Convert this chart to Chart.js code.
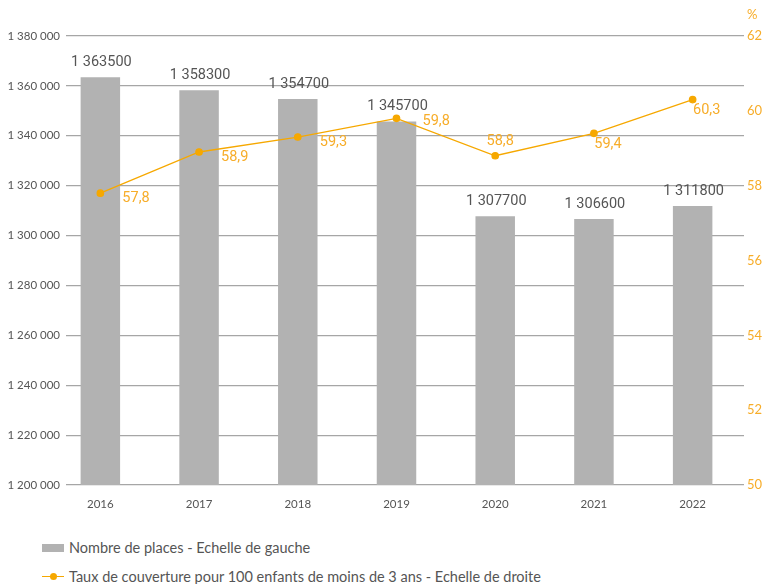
<!DOCTYPE html>
<html lang="fr">
<head>
<meta charset="utf-8">
<script src="https://cdn.jsdelivr.net/npm/chart.js@4.4.1/dist/chart.umd.min.js"></script>
<style>
    html, body { margin: 0; padding: 0; background: #fff; }
    #wrap { position: relative; width: 765px; height: 584px; }
    #c { display: block; }
    .leg { position: absolute; left: 42px; font-family: Lato, sans-serif; font-size: 14.5px; color: #555; display: flex; align-items: center; }
    .leg .box { width: 22px; height: 8px; background: #b2b2b2; margin-right: 5px; }
    .leg .ln { position: relative; width: 22px; height: 1.5px; background: #f6a800; margin-right: 5px; }
    .leg .ln:after { content: ""; position: absolute; left: 8px; top: -3px; width: 7px; height: 7px; border-radius: 50%; background: #f6a800; }
</style>
</head>
<body>
<div id="wrap">
    <canvas id="c" width="765" height="525"></canvas>
    <div class="leg" style="top:539px"><span class="box"></span>Nombre de places - Echelle de gauche</div>
    <div class="leg" style="top:568px"><span class="ln"></span>Taux de couverture pour 100 enfants de moins de 3 ans - Echelle de droite</div>
</div>
<script>
(function () {
    "use strict";

    var ANNEES = ["2016", "2017", "2018", "2019", "2020", "2021", "2022"];
    var PLACES = [1363500, 1358300, 1354700, 1345700, 1307700, 1306600, 1311800];
    var TAUX = [57.8, 58.9, 59.3, 59.8, 58.8, 59.4, 60.3];
    // placement des étiquettes du taux autour du point
    var TAUX_POS = ["br", "br", "br", "r", "t", "b", "b"];

    var GRIS_TXT = "#555555";
    var ORANGE = "#f6a800";
    var ORANGE_TXT = "#f7ad2a";

    function espaces(n) {
        return String(n).replace(/\B(?=(\d{3})+(?!\d))/g, " ");
    }
    function etiqPlaces(n) {
        var s = String(n);
        return s.slice(0, 1) + " " + s.slice(1);
    }

    var etiquettes = {
        id: "etiquettes",
        afterLayout: function (chart) {
            // décale l'axe des catégories comme dans l'original
            var x = chart.scales.x;
            x.left = 51; x.right = 742; x.width = x.right - x.left;
            x.configure();
            x._labelItems = null;
        },
        afterDatasetsDraw: function (chart) {
            var ctx = chart.ctx;
            ctx.save();
            ctx.font = "14.5px Roboto";
            ctx.fillStyle = GRIS_TXT;
            ctx.textAlign = "center";
            ctx.textBaseline = "middle";
            chart.getDatasetMeta(1).data.forEach(function (b, i) {
                ctx.fillText(etiqPlaces(PLACES[i]), b.x + 1, b.y - 15);
            });
            ctx.fillStyle = ORANGE_TXT;
            chart.getDatasetMeta(0).data.forEach(function (p, i) {
                var txt = TAUX[i].toFixed(1).replace(".", ",");
                var pos = TAUX_POS[i];
                if (pos === "br") { ctx.textAlign = "left"; ctx.fillText(txt, p.x + 22, p.y + 5); }
                else if (pos === "r") { ctx.textAlign = "left"; ctx.fillText(txt, p.x + 26, p.y + 3); }
                else if (pos === "t") { ctx.textAlign = "center"; ctx.fillText(txt, p.x + 5, p.y - 14); }
                else { ctx.textAlign = "center"; ctx.fillText(txt, p.x + 14, p.y + 11); }
            });
            // unité de l'axe droit
            var y1 = chart.scales.y1;
            ctx.textAlign = "left";
            ctx.font = "13px Lato";
            ctx.fillText("%", y1.left + 3, y1.top - 21);
            ctx.restore();
        }
    };

    new Chart(document.getElementById("c"), {
        data: {
            labels: ANNEES,
            datasets: [{
                type: "line",
                label: "Taux de couverture pour 100 enfants de moins de 3 ans - Echelle de droite",
                data: TAUX,
                yAxisID: "y1",
                borderColor: ORANGE,
                backgroundColor: ORANGE,
                borderWidth: 1.3,
                pointRadius: 3.2,
                pointHoverRadius: 3.2,
                tension: 0,
                order: 0
            }, {
                type: "bar",
                label: "Nombre de places - Echelle de gauche",
                data: PLACES,
                yAxisID: "y",
                backgroundColor: "#b2b2b2",
                categoryPercentage: 1,
                barPercentage: 0.4,
                order: 1
            }]
        },
        options: {
            responsive: false,
            animation: false,
            layout: { padding: { top: 36, left: 0, right: 0, bottom: 0 } },
            plugins: { legend: { display: false }, tooltip: { enabled: false } },
            scales: {
                x: {
                    grid: { display: false, drawTicks: false },
                    border: { display: false },
                    ticks: { color: GRIS_TXT, font: { family: "Lato", size: 11.5 }, padding: 12 },
                    afterFit: function (s) { s.height = 40; }
                },
                y: {
                    position: "left",
                    min: 1200000, max: 1380000,
                    grid: { color: "#a6a6a6", lineWidth: 1.2, drawTicks: false },
                    border: { display: false },
                    ticks: {
                        stepSize: 20000, color: GRIS_TXT, padding: 6,
                        font: { family: "Lato", size: 11.5 },
                        callback: function (v) { return espaces(v); }
                    },
                    afterFit: function (s) { s.width = 66; }
                },
                y1: {
                    position: "right",
                    min: 50, max: 62,
                    grid: { display: false, drawTicks: false },
                    border: { display: false },
                    ticks: { stepSize: 2, color: ORANGE_TXT, padding: 3, font: { family: "Lato", size: 13 } },
                    afterFit: function (s) { s.width = 21; }
                }
            }
        },
        plugins: [etiquettes]
    });
})();
</script>
</body>
</html>
